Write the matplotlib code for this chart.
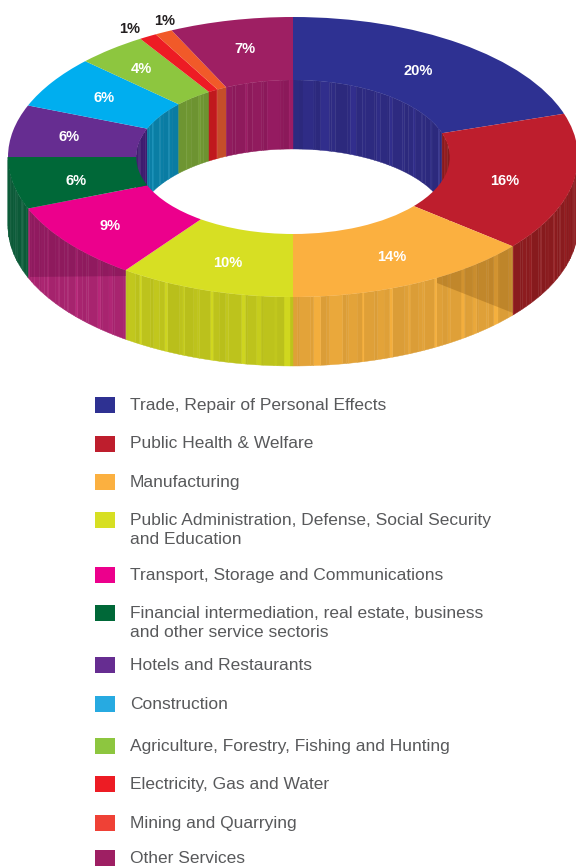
import matplotlib
matplotlib.use("Agg")
import matplotlib.pyplot as plt
import matplotlib.colors as mc
import numpy as np

plt.rcParams["font.family"] = ["Liberation Sans", "DejaVu Sans"]

# share of each sector, clockwise from 12 o'clock
categories = [
    "Trade, Repair of Personal Effects",
    "Public Health & Welfare",
    "Manufacturing",
    "Public Administration, Defense, Social Security\nand Education",
    "Transport, Storage and Communications",
    "Financial intermediation, real estate, business\nand other service sectoris",
    "Hotels and Restaurants",
    "Construction",
    "Agriculture, Forestry, Fishing and Hunting",
    "Electricity, Gas and Water",
    "Mining and Quarrying",
    "Other Services",
]
values = [20, 16, 14, 10, 9, 6, 6, 6, 4, 1, 1, 7]
colors = ["#2E3192", "#BE1E2D", "#FBB040", "#D7DF23", "#EC008C", "#006838",
          "#662D91", "#00AEEF", "#8DC63F", "#ED1C24", "#F15A29", "#9E1F63"]
legend_colors = ["#2E3192", "#BE1E2D", "#FBB040", "#D7DF23", "#EC008C", "#006838",
                 "#662D91", "#27AAE1", "#8DC63F", "#ED1C24", "#EF4136", "#9E1F63"]
wall_colors = ["#2D2A80", "#8A1B1E", "#DFA038", "#BDC31C", "#A8246F", "#0C5A38",
               "#3F1C70", "#0A7FA6", "#6F9632", "#C41A1E", "#C9502A", "#8E1A5C"]
# brightness and width (px) of the thin vertical streaks on the walls
streaks = [1.0, 0.98, 1.05, 1.0, 0.98, 1.09, 1.0, 1.02, 0.98, 1.0, 1.1, 0.99, 1.02]
streak_w = [7, 3, 11, 2, 5, 9, 2, 4, 13, 3, 6]

label_x = [418, 505, 392, 228, 110, 76, 69, 104, 141, 130, 165, 245]
label_y = [71, 181, 257, 263, 226, 181, 137, 98, 69, 29, 21, 49]
label_colors = ["white"] * 9 + ["#231F20", "#231F20", "white"]

legend_y = [405, 443.5, 482, 520, 575, 613, 665, 704, 746, 784, 823, 858]

W, H = 576, 868
CX, CY, RX, RY = 293, 157, 285, 140
HOLE = 0.55
DEPTH = 69 / RY


def shade(col, k):
    r = np.array(mc.to_rgb(col)) * k
    return tuple(np.clip(r, 0, 1))


def wall(ax, a0, a1, r, col, zorder=1):
    # a column of the side wall between two clock angles (radians)
    a = np.linspace(a0, a1, 8)
    x = r * np.sin(a)
    y = r * np.cos(a)
    ax.fill(np.r_[x, x[::-1]], np.r_[y, y[::-1] - DEPTH], color=col, lw=0.3, zorder=zorder)


def px(pts):
    # pixel position -> ring units
    pts = np.array(pts, dtype=float)
    return (pts[:, 0] - CX) / RX, (CY - pts[:, 1]) / RY


fig = plt.figure(figsize=(W / 100, H / 100), dpi=100)
ax = fig.add_axes([0, 0, 1, 1])

edges = np.radians(np.cumsum([0] + values) * 3.6)
for i in range(len(values)):
    a0, a1 = edges[i], edges[i + 1]
    # outer wall: front half, inner wall: back half
    for r, lo, hi in [(1.0, np.pi / 2, 3 * np.pi / 2), (HOLE, 3 * np.pi / 2, 2 * np.pi), (HOLE, 0, np.pi / 2)]:
        s, e = max(a0, lo), min(a1, hi)
        if e <= s:
            continue
        j = 3 * i
        while s < e:
            step = streak_w[j % len(streak_w)] / (r * RX)
            wall(ax, s, min(s + step, e), r, shade(wall_colors[i], streaks[j % len(streaks)]))
            s += step
            j += 1

# shadows falling across the front wall
sx, sy = px([(437, 283), (513, 313), (513, 240), (437, 240)])
ax.fill(sx, sy, color="#5A3000", alpha=0.22, lw=0, zorder=2)
sx, sy = px([(30, 200), (126, 200), (126, 276), (30, 277)])
ax.fill(sx, sy, color="#4A0030", alpha=0.25, lw=0, zorder=2)

ax.pie(values, colors=colors, startangle=90, counterclock=False, radius=1,
       wedgeprops=dict(width=1 - HOLE, linewidth=0, zorder=3))

ax.set_aspect("auto")
ax.set_xlim((0 - CX) / RX, (W - CX) / RX)
ax.set_ylim((CY - H) / RY, CY / RY)
ax.axis("off")

# labels and legend in pixel coordinates
lax = fig.add_axes([0, 0, 1, 1])
lax.set_xlim(0, W)
lax.set_ylim(H, 0)
lax.axis("off")
for v, x, y, c in zip(values, label_x, label_y, label_colors):
    lax.text(x, y, "%d%%" % v, color=c, fontsize=10.5, fontweight="bold", ha="center", va="center")
for name, col, y in zip(categories, legend_colors, legend_y):
    lax.fill([95, 115, 115, 95], [y - 8, y - 8, y + 8, y + 8], color=col, lw=0)
    lax.text(130, y - 7, name, color="#58595B", fontsize=12.5, va="top", ha="left", linespacing=1.35)

fig.savefig("out.png", dpi=100)
